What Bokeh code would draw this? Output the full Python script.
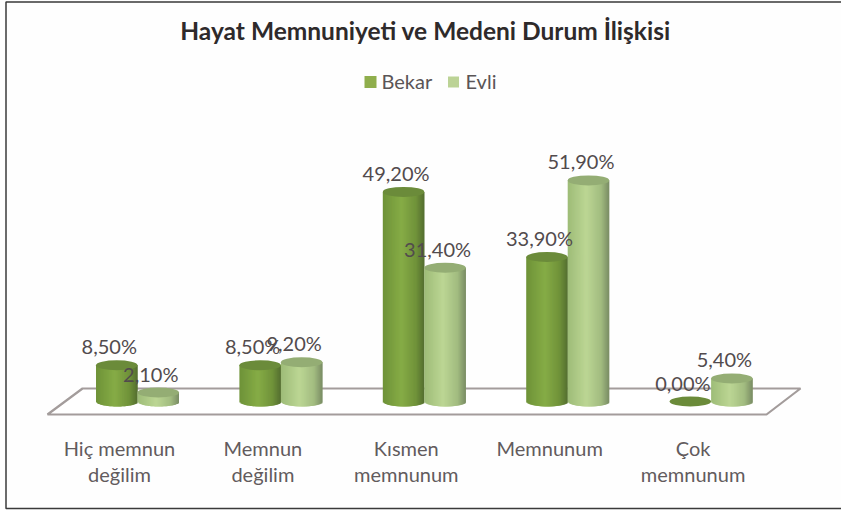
from bokeh.plotting import figure
from bokeh.embed import file_html
from bokeh.resources import INLINE
from bokeh.core.properties import value
from bokeh.models import Range1d
import numpy as np

title = "Hayat Memnuniyeti ve Medeni Durum İlişkisi"
categories = ["Hiç memnun\ndeğilim", "Memnun\ndeğilim", "Kısmen\nmemnunum", "Memnunum", "Çok\nmemnunum"]
bekar = [8.5, 8.5, 49.2, 33.9, 0.0]
evli = [2.1, 9.2, 31.4, 51.9, 5.4]
bekar_labels = ["8,50%", "8,50%", "49,20%", "33,90%", "0,00%"]
evli_labels = ["2,10%", "9,20%", "31,40%", "51,90%", "5,40%"]

W, H = 841, 510
PX_X = 143.4        # pixels per category
PX_Y = 4.26         # pixels per percent
X0, Y0 = 137.0, 401.0   # pixel of category 0 / value 0

def ux(px): return (px - X0) / PX_X
def uy(py): return (Y0 - py) / PX_Y

p = figure(width=W, height=H, output_backend="svg", toolbar_location=None,
           x_range=Range1d(ux(0), ux(W)), y_range=Range1d(uy(H), uy(0)),
           min_border=0, outline_line_color=None, background_fill_color="#fefefe",
           border_fill_color="#fefefe")
p.xaxis.visible = False
p.yaxis.visible = False
p.grid.visible = False

# frame of the picture: top, left and bottom only
p.line(ux(np.array([841, 5.5, 5.5, 841])), uy(np.array([1.5, 1.5, 508, 508])),
       line_color="#3a3a3a", line_width=1.5)

# floor
p.patch(ux(np.array([47, 82, 800, 766])), uy(np.array([414, 388, 388, 414])),
        fill_color="#ffffff", line_color="#a39c9b", line_width=2.2)

HALF = 20.75 / PX_X
RX = 20.75 / PX_X
RY = 5.0 / PX_Y
N = 40

def lerp_stops(t, stops):
    xs = [s[0] for s in stops]
    out = [int(round(np.interp(t, xs, [s[1][k] for s in stops]))) for k in range(3)]
    return "#%02x%02x%02x" % tuple(out)

SH_B = [(0, (110, 146, 56)), (0.45, (134, 172, 70)), (0.8, (112, 146, 58)), (1, (84, 110, 48))]
SH_E = [(0, (158, 188, 120)), (0.45, (188, 214, 148)), (0.8, (162, 188, 128)), (1, (122, 140, 100))]

def cylinders(vals, offset, stops, top):
    for i, v in enumerate(vals):
        cx = i + offset
        if v > 0:
            edges = np.linspace(-1, 1, N + 1)
            mids = (edges[:-1] + edges[1:]) / 2
            bottoms = -RY * np.sqrt(1 - mids ** 2)
            cols = [lerp_stops((m + 1) / 2, stops) for m in mids]
            rights = np.minimum(edges[1:] + 2.2 / N, 1.0)
            p.quad(left=cx + edges[:-1] * RX, right=cx + rights * RX, top=v, bottom=bottoms,
                   fill_color=cols, line_color=None)
        p.ellipse(x=[cx], y=[v], width=[2 * RX], height=[2 * RY],
                  fill_color=top, line_color=None)

cylinders(bekar, -HALF, SH_B, "#6b8b3a")
cylinders(evli, HALF, SH_E, "#94ad74")

# value labels
idx = np.arange(5)
for off, vals, labs in [(-HALF, bekar, bekar_labels), (HALF, evli, evli_labels)]:
    p.text(x=idx + off, y=vals, text=labs, text_font=value("Lato"), text_font_size="20px",
           text_color="#524b4d", text_align="center", text_baseline="alphabetic",
           x_offset=-7.5, y_offset=-19)

# category labels
p.text(x=idx, y=[uy(435)] * 5, text=categories, text_font=value("Lato"), text_font_size="20px",
       text_color="#625b5d", text_align="center", text_baseline="top", x_offset=-18,
       text_line_height=1.1)

# title
p.text(x=[ux(425)], y=[uy(30)], text=[title], text_font=value("Lato"), text_font_size="24.5px",
       text_font_style="bold", text_color="#2e2a2b", text_align="center", text_baseline="alphabetic")

# legend
p.scatter(x=[ux(370)], y=[uy(81.5)], size=12, marker="square", fill_color="#8fae4c", line_color=None)
p.text(x=[ux(381)], y=[uy(80)], text=["Bekar"], text_font=value("Lato"), text_font_size="20px",
       text_color="#5a5556", text_baseline="alphabetic")
p.scatter(x=[ux(453)], y=[uy(81.5)], size=11, marker="square", fill_color="#bcd396", line_color=None)
p.text(x=[ux(465)], y=[uy(80)], text=["Evli"], text_font=value("Lato"), text_font_size="20px",
       text_color="#5a5556", text_baseline="alphabetic")

open("out.html", "w").write(file_html(p, INLINE))
